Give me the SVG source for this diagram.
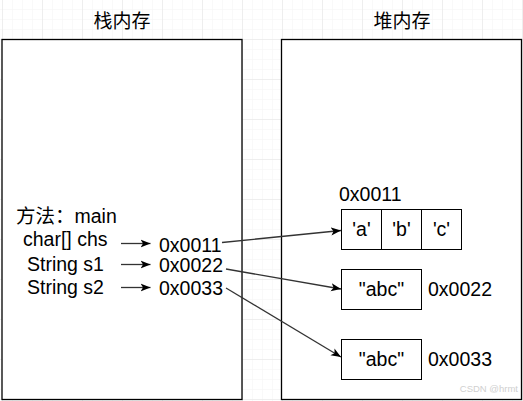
<svg xmlns="http://www.w3.org/2000/svg" width="523" height="401" viewBox="0 0 523 401">
<defs>
<pattern id="minor" x="2" y="-1" width="10" height="10" patternUnits="userSpaceOnUse">
<path d="M0 0V10M0 0H10" fill="none" stroke="#f3f3f3" stroke-width="1"/>
</pattern>
<pattern id="major" x="2" y="-1" width="40" height="40" patternUnits="userSpaceOnUse">
<path d="M0 0V40M0 0H40" fill="none" stroke="#e4e4e4" stroke-width="1"/>
</pattern>
<marker id="ah" viewBox="0 0 10 10" refX="10" refY="5" markerWidth="10" markerHeight="10" markerUnits="userSpaceOnUse" orient="auto">
<path d="M0 1 L10 5 L0 9 L2.5 5 Z" fill="#000"/>
</marker>
<style>
.t{font-family:"Liberation Sans",Arial,"Noto Sans CJK SC",sans-serif;font-size:19.5px;fill:#000}
.h{font-family:"Noto Sans CJK SC","Liberation Sans",sans-serif;font-size:19px;fill:#000}
.box{fill:#fff;stroke:#000;stroke-width:1.3}
.cell{fill:#fff;stroke:#000;stroke-width:1}
.c{fill:none;stroke:#333;stroke-width:1.3}
</style>
</defs>
<rect width="523" height="401" fill="#fff"/>
<rect width="523" height="401" fill="url(#minor)"/>
<rect width="523" height="401" fill="url(#major)"/>
<g id="stack">
<rect class="box" x="2" y="39.5" width="240" height="360"/>
<text class="h" x="122" y="28" text-anchor="middle">栈内存</text>
<text class="t" x="16" y="223">方法：main</text>
<text class="t" x="23" y="246">char[] chs</text>
<text class="t" x="27" y="271">String s1</text>
<text class="t" x="27" y="294">String s2</text>
<text class="t" x="159" y="252">0x0011</text>
<text class="t" x="159" y="272">0x0022</text>
<text class="t" x="159" y="295">0x0033</text>
</g>
<g id="heap">
<rect class="box" x="281.5" y="39.5" width="240" height="360"/>
<text class="h" x="402" y="28" text-anchor="middle">堆内存</text>
</g>
<g id="arr">
<text class="t" x="339" y="201">0x0011</text>
<rect class="cell" x="341.5" y="209.5" width="40" height="40"/>
<rect class="cell" x="381.5" y="209.5" width="40" height="40"/>
<rect class="cell" x="421.5" y="209.5" width="40" height="40"/>
<text class="t" x="361.5" y="236" text-anchor="middle">'a'</text>
<text class="t" x="401.5" y="236" text-anchor="middle">'b'</text>
<text class="t" x="441.5" y="236" text-anchor="middle">'c'</text>
</g>
<g id="str1">
<rect class="cell" x="341.5" y="269.5" width="80" height="40"/>
<text class="t" x="381.5" y="296" text-anchor="middle">"abc"</text>
<text class="t" x="428" y="296">0x0022</text>
</g>
<g id="str2">
<rect class="cell" x="341.5" y="339.5" width="80" height="40"/>
<text class="t" x="381.5" y="366" text-anchor="middle">"abc"</text>
<text class="t" x="428" y="366">0x0033</text>
</g>
<g id="connectors">
<line class="c" x1="121" y1="243.5" x2="150.5" y2="243.5" marker-end="url(#ah)"/>
<line class="c" x1="121" y1="264.5" x2="150.5" y2="264.5" marker-end="url(#ah)"/>
<line class="c" x1="121" y1="287.5" x2="150.5" y2="287.5" marker-end="url(#ah)"/>
<line class="c" x1="222" y1="242.5" x2="341" y2="230.5" marker-end="url(#ah)"/>
<line class="c" x1="226" y1="269" x2="341" y2="289" marker-end="url(#ah)"/>
<line class="c" x1="226" y1="288" x2="341" y2="357" marker-end="url(#ah)"/>
</g>
<text x="518" y="392" text-anchor="end" font-family="Liberation Sans,Arial,sans-serif" font-size="9.5" fill="#d0d0d0">CSDN @hrmt</text>
</svg>
